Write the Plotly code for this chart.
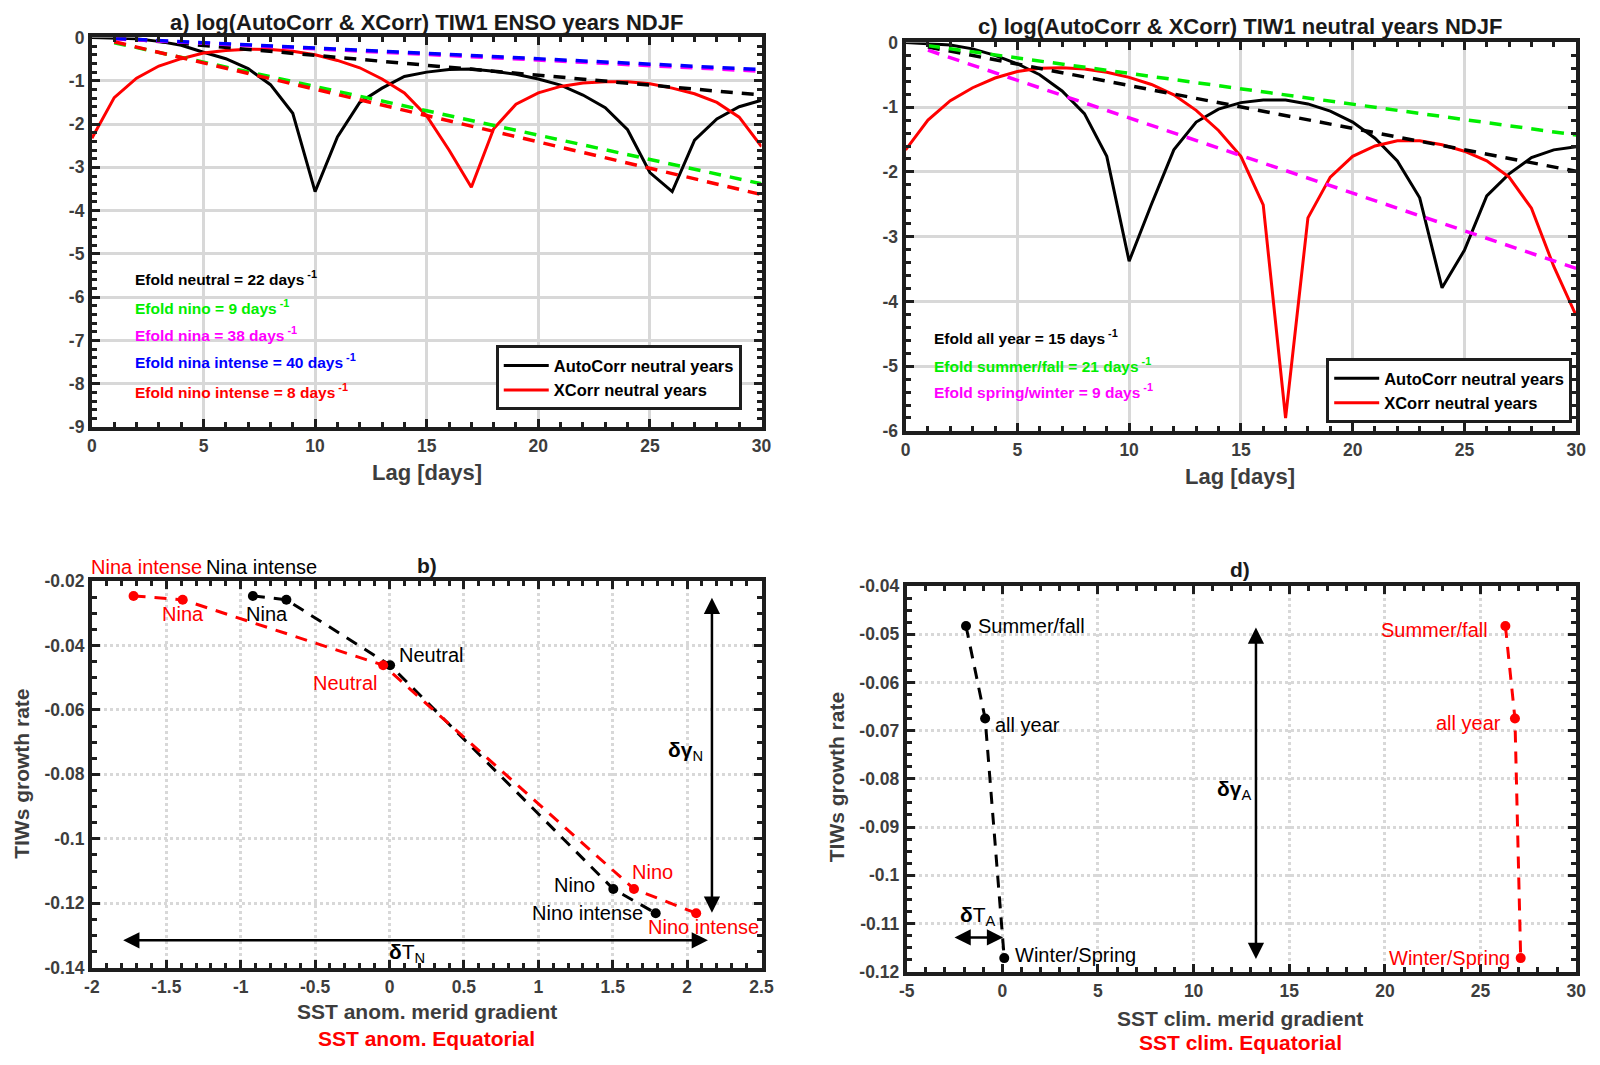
import plotly.graph_objects as go
from plotly.subplots import make_subplots

# ---- data ----
lag = list(range(31))

# a) ENSO years
auto_enso = [0, -0.01, -0.03, -0.09, -0.18, -0.34, -0.49, -0.72, -1.09, -1.75, -3.56,
             -2.3, -1.5, -1.17, -0.9, -0.8, -0.74, -0.73, -0.78, -0.85, -0.96,
             -1.1, -1.33, -1.62, -2.13, -3.12, -3.56, -2.37, -1.88, -1.6, -1.45]
xcorr_enso = [-2.33, -1.39, -0.94, -0.66, -0.49, -0.36, -0.3, -0.27, -0.28, -0.32, -0.4,
              -0.53, -0.7, -0.96, -1.28, -1.81, -2.6, -3.46, -2.11, -1.54, -1.28,
              -1.13, -1.05, -1.02, -1.02, -1.07, -1.17, -1.3, -1.5, -1.84, -2.52]

# c) neutral years
auto_neutral = [0, -0.02, -0.04, -0.1, -0.2, -0.33, -0.5, -0.75, -1.1, -1.76, -3.38,
                -2.5, -1.66, -1.23, -1.03, -0.93, -0.89, -0.89, -0.95, -1.06, -1.23,
                -1.48, -1.83, -2.4, -3.79, -3.21, -2.37, -2.03, -1.78, -1.66, -1.61]
xcorr_neutral = [-1.66, -1.2, -0.9, -0.7, -0.55, -0.45, -0.4, -0.39, -0.41, -0.46, -0.54,
                 -0.65, -0.81, -1.05, -1.36, -1.76, -2.51, -5.8, -2.71, -2.08, -1.76,
                 -1.6, -1.52, -1.52, -1.58, -1.68, -1.83, -2.08, -2.56, -3.46, -4.22]

# e-folding fits (end points, lag 1 and lag 30)
fit_lag = [1, 30]
fit_a_neutral = [0.0, -1.33]
fit_a_nino = [-0.12, -3.38]
fit_a_nina = [-0.03, -0.78]
fit_a_nina_int = [-0.02, -0.74]
fit_a_nino_int = [-0.1, -3.63]
fit_c_all = [-0.07, -1.99]
fit_c_summer = [-0.05, -1.43]
fit_c_spring = [-0.12, -3.49]

efold_a = ['Efold neutral = 22 days', 'Efold nino = 9 days', 'Efold nina = 38 days',
           'Efold nina intense = 40 days', 'Efold nino intense = 8 days']
efold_c = ['Efold all year = 15 days', 'Efold summer/fall = 21 days',
           'Efold spring/winter = 9 days']

# b) growth rate vs SST gradient
b_labels = ['Nina intense', 'Nina', 'Neutral', 'Nino', 'Nino intense']
b_merid = [-0.918, -0.693, 0.004, 1.504, 1.789]
b_equat = [-1.72, -1.39, -0.0425, 1.643, 2.061]
b_rate = [-0.0246, -0.0258, -0.0461, -0.1156, -0.1231]

# d) growth rate vs climatological SST gradient
d_labels = ['Summer/fall', 'all year', 'Winter/Spring']
d_merid = [-1.9, -0.9, 0.1]
d_equat = [26.3, 26.8, 27.1]
d_rate = [-0.0483, -0.0675, -0.1172]

# double arrows (x0, x1, y0, y1)
b_arrow_h = [-1.80, 2.14, -0.1315, -0.1315]
b_arrow_v = [2.167, 2.167, -0.0247, -0.123]
d_arrow_v = [13.26, 13.26, -0.0483, -0.1174]
d_arrow_h = [-2.58, 0.04, -0.1129, -0.1129]

# tick labels
a_yvals = [0, -1, -2, -3, -4, -5, -6, -7, -8, -9]
a_ytext = ['0', '-1', '-2', '-3', '-4', '-5', '-6', '-7', '-8', '-9']
c_yvals = [0, -1, -2, -3, -4, -5, -6]
c_ytext = ['0', '-1', '-2', '-3', '-4', '-5', '-6']
lag_vals = [0, 5, 10, 15, 20, 25, 30]
lag_text = ['0', '5', '10', '15', '20', '25', '30']
b_xvals = [-2, -1.5, -1, -0.5, 0, 0.5, 1, 1.5, 2, 2.5]
b_xtext = ['-2', '-1.5', '-1', '-0.5', '0', '0.5', '1', '1.5', '2', '2.5']
b_yvals = [-0.02, -0.04, -0.06, -0.08, -0.1, -0.12, -0.14]
b_ytext = ['-0.02', '-0.04', '-0.06', '-0.08', '-0.1', '-0.12', '-0.14']
d_xvals = [-5, 0, 5, 10, 15, 20, 25, 30]
d_xtext = ['-5', '0', '5', '10', '15', '20', '25', '30']
d_yvals = [-0.04, -0.05, -0.06, -0.07, -0.08, -0.09, -0.1, -0.11, -0.12]
d_ytext = ['-0.04', '-0.05', '-0.06', '-0.07', '-0.08', '-0.09', '-0.1', '-0.11', '-0.12']

FONT = 'Liberation Sans, Arial, sans-serif'
GRAY = '#3d3d3d'
FRAME = '#1e1e1e'
GREEN, MAGENTA, BLUE, RED = '#00ee00', '#ff00ff', '#0000ff', '#ff0000'
DASH = '12px,9px'

fig = make_subplots(rows=2, cols=2)

# ---- panel a ----
fig.add_trace(go.Scatter(x=lag, y=auto_enso, mode='lines', name='AutoCorr neutral years',
                         line=dict(color='black', width=3), legend='legend'), row=1, col=1)
fig.add_trace(go.Scatter(x=lag, y=xcorr_enso, mode='lines', name='XCorr neutral years',
                         line=dict(color=RED, width=3), legend='legend'), row=1, col=1)
for yy, col in [(fit_a_neutral, 'black'), (fit_a_nino, GREEN), (fit_a_nina, MAGENTA),
                (fit_a_nina_int, BLUE), (fit_a_nino_int, RED)]:
    fig.add_trace(go.Scatter(x=fit_lag, y=yy, mode='lines', showlegend=False,
                             line=dict(color=col, width=3.5, dash=DASH)), row=1, col=1)

# ---- panel c ----
fig.add_trace(go.Scatter(x=lag, y=auto_neutral, mode='lines', name='AutoCorr neutral years',
                         line=dict(color='black', width=3), legend='legend2'), row=1, col=2)
fig.add_trace(go.Scatter(x=lag, y=xcorr_neutral, mode='lines', name='XCorr neutral years',
                         line=dict(color=RED, width=3), legend='legend2'), row=1, col=2)
for yy, col in [(fit_c_all, 'black'), (fit_c_summer, GREEN), (fit_c_spring, MAGENTA)]:
    fig.add_trace(go.Scatter(x=fit_lag, y=yy, mode='lines', showlegend=False,
                             line=dict(color=col, width=3.5, dash=DASH)), row=1, col=2)

# ---- panel b ----
fig.add_trace(go.Scatter(x=b_merid, y=b_rate, mode='lines+markers', showlegend=False,
                         line=dict(color='black', width=3, dash=DASH),
                         marker=dict(color='black', size=10)), row=2, col=1)
fig.add_trace(go.Scatter(x=b_equat, y=b_rate, mode='lines+markers', showlegend=False,
                         line=dict(color=RED, width=3, dash=DASH),
                         marker=dict(color=RED, size=10)), row=2, col=1)

# ---- panel d ----
fig.add_trace(go.Scatter(x=d_merid, y=d_rate, mode='lines+markers', showlegend=False,
                         line=dict(color='black', width=3, dash=DASH),
                         marker=dict(color='black', size=10)), row=2, col=2)
fig.add_trace(go.Scatter(x=d_equat, y=d_rate, mode='lines+markers', showlegend=False,
                         line=dict(color=RED, width=3, dash=DASH),
                         marker=dict(color=RED, size=10)), row=2, col=2)


def style_axis(grid_dash, minor_dtick, tickvals, ticktext, rng):
    return dict(range=rng, tickmode='array', tickvals=tickvals, ticktext=ticktext,
                ticks='inside', ticklen=8, tickwidth=3, tickcolor=FRAME,
                showline=True, linewidth=4, linecolor=FRAME, mirror='ticks',
                showgrid=True, gridcolor='#d8d8d8', gridwidth=3, griddash=grid_dash,
                zeroline=False,
                tickfont=dict(family=FONT, size=17.5, color=GRAY, weight='bold'),
                minor=dict(tickmode='linear', tick0=0, dtick=minor_dtick, ticks='inside',
                           ticklen=5, tickwidth=3, tickcolor=FRAME, showgrid=False))


fig.update_layout(
    xaxis=dict(domain=[0.0531, 0.4769], **style_axis('solid', 1, lag_vals, lag_text, [0, 30])),
    yaxis=dict(domain=[0.6009, 0.9737], **style_axis('solid', 0.2, a_yvals, a_ytext, [-9, 0])),
    xaxis2=dict(domain=[0.5681, 0.9925], **style_axis('solid', 1, lag_vals, lag_text, [0, 30])),
    yaxis2=dict(domain=[0.5972, 0.969], **style_axis('solid', 0.2, c_yvals, c_ytext, [-6, 0])),
    xaxis3=dict(domain=[0.0531, 0.4769], **style_axis('3px,3px', 0.1, b_xvals, b_xtext, [-2, 2.5])),
    yaxis3=dict(domain=[0.0836, 0.4535], **style_axis('3px,3px', 0.005, b_yvals, b_ytext, [-0.14, -0.02])),
    xaxis4=dict(domain=[0.5688, 0.9925], **style_axis('3px,3px', 1, d_xvals, d_xtext, [-5, 30])),
    yaxis4=dict(domain=[0.0798, 0.4488], **style_axis('3px,3px', 0.0025, d_yvals, d_ytext, [-0.12, -0.04])),
)

legend_style = dict(font=dict(family=FONT, size=16.5, color='black', weight='bold'),
                    bgcolor='white', bordercolor=FRAME, borderwidth=3,
                    xanchor='right', yanchor='bottom', tracegroupgap=0, itemwidth=45)
fig.update_layout(
    width=1600, height=1065, margin=dict(l=0, r=0, t=0, b=0),
    paper_bgcolor='white', plot_bgcolor='white',
    legend=dict(x=0.4644, y=0.6169, **legend_style),
    legend2=dict(x=0.99, y=0.6047, **legend_style),
)

ann = []


def paper_text(txt, x, y, size, color, bold=True, angle=0, xanchor='center'):
    t = '<b>' + txt + '</b>' if bold else txt
    ann.append(dict(text=t, x=x, y=y, xref='paper', yref='paper', showarrow=False,
                    xanchor=xanchor, yanchor='middle', textangle=angle,
                    font=dict(family=FONT, size=size, color=color)))


# titles
paper_text('a) log(AutoCorr &amp; XCorr) TIW1 ENSO years NDJF', 0.265, 0.9878, 22, '#1a1a1a')
paper_text('c) log(AutoCorr &amp; XCorr) TIW1 neutral years NDJF', 0.78, 0.984, 22, '#1a1a1a')
paper_text('b)', 0.265, 0.4685, 21, '#1a1a1a')
paper_text('d)', 0.78, 0.4648, 21, '#1a1a1a')
# axis titles
paper_text('Lag [days]', 0.265, 0.557, 22, GRAY)
paper_text('Lag [days]', 0.78, 0.554, 22, GRAY)
paper_text('SST anom. merid gradient', 0.265, 0.0413, 21, GRAY)
paper_text('SST anom. Equatorial', 0.265, 0.016, 21, RED)
paper_text('SST clim. merid gradient', 0.78, 0.0347, 21, GRAY)
paper_text('SST clim. Equatorial', 0.78, 0.0122, 21, RED)
paper_text('TIWs growth rate', 0.0085, 0.2695, 21, GRAY, angle=-90)
paper_text('TIWs growth rate', 0.524, 0.2657, 21, GRAY, angle=-90)

# e-fold notes
for txt, yy, col in zip(efold_a, [0.7437, 0.7155, 0.6901, 0.6638, 0.6357],
                        ['black', GREEN, MAGENTA, BLUE, RED]):
    paper_text(txt + '<sup> -1</sup>', 0.0789, yy, 15.5, col, xanchor='left')
for txt, yy, col in zip(efold_c, [0.6873, 0.6601, 0.6357], ['black', GREEN, MAGENTA]):
    paper_text(txt + '<sup> -1</sup>', 0.585, yy, 15.5, col, xanchor='left')


def point_label(txt, x, y, ax, col, anchor, dx, dy):
    ann.append(dict(text=txt, x=x, y=y, xref='x' + ax, yref='y' + ax, showarrow=False,
                    xanchor=anchor, yanchor='middle', xshift=dx, yshift=dy,
                    font=dict(family=FONT, size=20, color=col)))


# panel b labels
b_black_pos = [('center', 9, 29), ('center', -19, -14), ('left', 7, 10),
               ('right', -16, 4), ('right', -11, 0)]
b_red_pos = [('center', 13, 29), ('center', 0, -14), ('right', -4, -18),
             ('center', 19, 17), ('center', 7, -14)]
for lab, xx, yy, p in zip(b_labels, b_merid, b_rate, b_black_pos):
    point_label(lab, xx, yy, '3', 'black', *p)
for lab, xx, yy, p in zip(b_labels, b_equat, b_rate, b_red_pos):
    point_label(lab, xx, yy, '3', RED, *p)

# panel d labels
d_black_pos = [('left', 10, 0), ('left', 8, -6), ('left', 9, 3)]
d_red_pos = [('right', -15, -4), ('right', -12, -4), ('right', -9, 0)]
for lab, xx, yy, p in zip(d_labels, d_merid, d_rate, d_black_pos):
    point_label(lab, xx, yy, '4', 'black', *p)
for lab, xx, yy, p in zip(d_labels, d_equat, d_rate, d_red_pos):
    point_label(lab, xx, yy, '4', RED, *p)


def double_arrow(a, ax):
    ann.append(dict(text='', x=a[1], y=a[3], ax=a[0], ay=a[2],
                    xref='x' + ax, yref='y' + ax, axref='x' + ax, ayref='y' + ax,
                    showarrow=True, arrowside='end+start', arrowhead=2, startarrowhead=2,
                    arrowsize=1.3, startarrowsize=1.3, arrowwidth=2.5, arrowcolor='black',
                    standoff=0, startstandoff=0))


double_arrow(b_arrow_h, '3')
double_arrow(b_arrow_v, '3')
double_arrow(d_arrow_v, '4')
double_arrow(d_arrow_h, '4')

# arrow labels
for txt, xx, yy, ax in [('<b>δγ</b><sub>N</sub>', 1.99, -0.0728, '3'),
                        ('<b>δ</b>T<sub>N</sub>', 0.12, -0.1353, '3'),
                        ('<b>δγ</b><sub>A</sub>', 12.13, -0.0823, '4'),
                        ('<b>δ</b>T<sub>A</sub>', -1.27, -0.1084, '4')]:
    ann.append(dict(text=txt, x=xx, y=yy, xref='x' + ax, yref='y' + ax, showarrow=False,
                    font=dict(family=FONT, size=21, color='black')))

fig.update_layout(annotations=ann)

# page body has a default margin; drop it so the figure sits at the window corner
fig.write_html("out.html", config={'displayModeBar': False},
               post_script="document.body.style.margin='0px';")
